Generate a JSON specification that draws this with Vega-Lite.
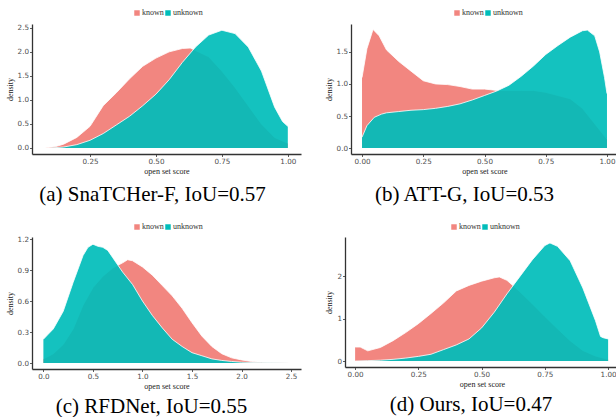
{
  "$schema": "https://vega.github.io/schema/vega-lite/v6.json",
  "background": "white",
  "padding": {"left": 6, "top": 9, "right": 0, "bottom": 0},
  "config": {
    "view": {"stroke": null},
    "axis": {"grid": false, "domainColor": "#333333", "domainWidth": 1.3, "tickColor": "#333333", "tickSize": 2.5, "tickWidth": 0.8, "labelFont": "DejaVu Sans", "labelFontSize": 7.2, "labelColor": "#4d4d4d", "labelPadding": 1, "titleFont": "Liberation Serif", "titleFontSize": 8, "titleFontWeight": "normal", "titleColor": "#1a1a1a", "titlePadding": 3},
    "legend": {"symbolType": "square", "symbolSize": 30, "symbolStrokeWidth": 0, "labelFont": "Liberation Serif", "labelFontSize": 8, "labelColor": "#333333", "labelOffset": 1, "columnPadding": -3, "padding": 0, "rowPadding": 0},
    "title": {"font": "Liberation Serif", "fontSize": 21, "fontWeight": "normal", "color": "black", "orient": "bottom", "anchor": "middle", "frame": "group", "offset": 8}
  },
  "datasets": {
    "a": [
      {"s":"known","v":0.08,"d":0},{"s":"known","v":0.12,"d":0.03},{"s":"known","v":0.15,"d":0.08},{"s":"known","v":0.2,"d":0.22},{"s":"known","v":0.25,"d":0.45},{"s":"known","v":0.3,"d":0.88},{"s":"known","v":0.35,"d":1.15},{"s":"known","v":0.4,"d":1.44},{"s":"known","v":0.45,"d":1.7},{"s":"known","v":0.5,"d":1.87},{"s":"known","v":0.55,"d":2.0},{"s":"known","v":0.6,"d":2.07},{"s":"known","v":0.63,"d":2.08},{"s":"known","v":0.65,"d":2.03},{"s":"known","v":0.7,"d":1.9},{"s":"known","v":0.75,"d":1.6},{"s":"known","v":0.8,"d":1.26},{"s":"known","v":0.85,"d":0.88},{"s":"known","v":0.9,"d":0.5},{"s":"known","v":0.95,"d":0.22},{"s":"known","v":1.0,"d":0.1},
      {"s":"unknown","v":0.1,"d":0},{"s":"unknown","v":0.15,"d":0.02},{"s":"unknown","v":0.2,"d":0.07},{"s":"unknown","v":0.25,"d":0.16},{"s":"unknown","v":0.3,"d":0.3},{"s":"unknown","v":0.35,"d":0.48},{"s":"unknown","v":0.4,"d":0.66},{"s":"unknown","v":0.45,"d":0.88},{"s":"unknown","v":0.5,"d":1.12},{"s":"unknown","v":0.55,"d":1.42},{"s":"unknown","v":0.6,"d":1.78},{"s":"unknown","v":0.65,"d":2.1},{"s":"unknown","v":0.7,"d":2.35},{"s":"unknown","v":0.75,"d":2.45},{"s":"unknown","v":0.8,"d":2.38},{"s":"unknown","v":0.85,"d":2.1},{"s":"unknown","v":0.9,"d":1.6},{"s":"unknown","v":0.95,"d":0.85},{"s":"unknown","v":0.98,"d":0.55},{"s":"unknown","v":1.0,"d":0.45}
    ],
    "b": [
      {"s":"known","v":0,"d":1.1},{"s":"known","v":0.02,"d":1.55},{"s":"known","v":0.045,"d":1.85},{"s":"known","v":0.07,"d":1.75},{"s":"known","v":0.1,"d":1.53},{"s":"known","v":0.15,"d":1.35},{"s":"known","v":0.2,"d":1.2},{"s":"known","v":0.25,"d":1.05},{"s":"known","v":0.3,"d":1.0},{"s":"known","v":0.35,"d":0.99},{"s":"known","v":0.4,"d":0.96},{"s":"known","v":0.45,"d":0.92},{"s":"known","v":0.5,"d":0.92},{"s":"known","v":0.55,"d":0.9},{"s":"known","v":0.6,"d":0.9},{"s":"known","v":0.65,"d":0.9},{"s":"known","v":0.7,"d":0.9},{"s":"known","v":0.75,"d":0.87},{"s":"known","v":0.8,"d":0.82},{"s":"known","v":0.85,"d":0.77},{"s":"known","v":0.9,"d":0.62},{"s":"known","v":0.95,"d":0.38},{"s":"known","v":1.0,"d":0.14},
      {"s":"unknown","v":0,"d":0.17},{"s":"unknown","v":0.02,"d":0.35},{"s":"unknown","v":0.05,"d":0.48},{"s":"unknown","v":0.08,"d":0.53},{"s":"unknown","v":0.1,"d":0.55},{"s":"unknown","v":0.15,"d":0.57},{"s":"unknown","v":0.2,"d":0.59},{"s":"unknown","v":0.25,"d":0.6},{"s":"unknown","v":0.3,"d":0.62},{"s":"unknown","v":0.35,"d":0.65},{"s":"unknown","v":0.4,"d":0.69},{"s":"unknown","v":0.45,"d":0.75},{"s":"unknown","v":0.5,"d":0.82},{"s":"unknown","v":0.55,"d":0.89},{"s":"unknown","v":0.6,"d":0.98},{"s":"unknown","v":0.65,"d":1.12},{"s":"unknown","v":0.7,"d":1.28},{"s":"unknown","v":0.75,"d":1.46},{"s":"unknown","v":0.8,"d":1.6},{"s":"unknown","v":0.85,"d":1.73},{"s":"unknown","v":0.9,"d":1.83},{"s":"unknown","v":0.92,"d":1.84},{"s":"unknown","v":0.95,"d":1.75},{"s":"unknown","v":0.97,"d":1.5},{"s":"unknown","v":0.99,"d":1.1},{"s":"unknown","v":1.0,"d":0.85}
    ],
    "c": [
      {"s":"known","v":0,"d":0.04},{"s":"known","v":0.1,"d":0.09},{"s":"known","v":0.2,"d":0.18},{"s":"known","v":0.3,"d":0.33},{"s":"known","v":0.4,"d":0.56},{"s":"known","v":0.5,"d":0.73},{"s":"known","v":0.6,"d":0.84},{"s":"known","v":0.7,"d":0.92},{"s":"known","v":0.8,"d":0.97},{"s":"known","v":0.85,"d":1.0},{"s":"known","v":0.9,"d":0.99},{"s":"known","v":1.0,"d":0.93},{"s":"known","v":1.1,"d":0.85},{"s":"known","v":1.2,"d":0.75},{"s":"known","v":1.3,"d":0.65},{"s":"known","v":1.4,"d":0.53},{"s":"known","v":1.5,"d":0.39},{"s":"known","v":1.6,"d":0.26},{"s":"known","v":1.7,"d":0.16},{"s":"known","v":1.8,"d":0.09},{"s":"known","v":1.9,"d":0.05},{"s":"known","v":2.0,"d":0.03},{"s":"known","v":2.1,"d":0.015},{"s":"known","v":2.2,"d":0.008},{"s":"known","v":2.3,"d":0.004},{"s":"known","v":2.4,"d":0.002},{"s":"known","v":2.5,"d":0.001},
      {"s":"unknown","v":0,"d":0.23},{"s":"unknown","v":0.05,"d":0.28},{"s":"unknown","v":0.1,"d":0.33},{"s":"unknown","v":0.2,"d":0.5},{"s":"unknown","v":0.3,"d":0.78},{"s":"unknown","v":0.4,"d":1.04},{"s":"unknown","v":0.45,"d":1.12},{"s":"unknown","v":0.5,"d":1.15},{"s":"unknown","v":0.55,"d":1.13},{"s":"unknown","v":0.6,"d":1.12},{"s":"unknown","v":0.65,"d":1.09},{"s":"unknown","v":0.7,"d":1.02},{"s":"unknown","v":0.8,"d":0.88},{"s":"unknown","v":0.9,"d":0.76},{"s":"unknown","v":1.0,"d":0.6},{"s":"unknown","v":1.1,"d":0.46},{"s":"unknown","v":1.2,"d":0.34},{"s":"unknown","v":1.3,"d":0.23},{"s":"unknown","v":1.4,"d":0.16},{"s":"unknown","v":1.5,"d":0.1},{"s":"unknown","v":1.6,"d":0.07},{"s":"unknown","v":1.7,"d":0.04},{"s":"unknown","v":1.8,"d":0.025},{"s":"unknown","v":1.9,"d":0.015},{"s":"unknown","v":2.0,"d":0.008},{"s":"unknown","v":2.2,"d":0.003},{"s":"unknown","v":2.5,"d":0.001}
    ],
    "d": [
      {"s":"known","v":0,"d":0.33},{"s":"known","v":0.02,"d":0.33},{"s":"known","v":0.05,"d":0.24},{"s":"known","v":0.1,"d":0.32},{"s":"known","v":0.15,"d":0.48},{"s":"known","v":0.2,"d":0.67},{"s":"known","v":0.25,"d":0.88},{"s":"known","v":0.3,"d":1.12},{"s":"known","v":0.35,"d":1.37},{"s":"known","v":0.4,"d":1.65},{"s":"known","v":0.45,"d":1.78},{"s":"known","v":0.5,"d":1.88},{"s":"known","v":0.55,"d":1.96},{"s":"known","v":0.57,"d":1.98},{"s":"known","v":0.6,"d":1.9},{"s":"known","v":0.65,"d":1.64},{"s":"known","v":0.7,"d":1.35},{"s":"known","v":0.75,"d":1.05},{"s":"known","v":0.8,"d":0.76},{"s":"known","v":0.85,"d":0.48},{"s":"known","v":0.9,"d":0.25},{"s":"known","v":0.95,"d":0.12},{"s":"known","v":1.0,"d":0.04},
      {"s":"unknown","v":0,"d":0},{"s":"unknown","v":0.05,"d":0.01},{"s":"unknown","v":0.1,"d":0.02},{"s":"unknown","v":0.15,"d":0.04},{"s":"unknown","v":0.2,"d":0.07},{"s":"unknown","v":0.25,"d":0.11},{"s":"unknown","v":0.3,"d":0.16},{"s":"unknown","v":0.35,"d":0.27},{"s":"unknown","v":0.4,"d":0.38},{"s":"unknown","v":0.45,"d":0.52},{"s":"unknown","v":0.5,"d":0.78},{"s":"unknown","v":0.55,"d":1.15},{"s":"unknown","v":0.6,"d":1.58},{"s":"unknown","v":0.65,"d":1.98},{"s":"unknown","v":0.7,"d":2.38},{"s":"unknown","v":0.75,"d":2.72},{"s":"unknown","v":0.77,"d":2.78},{"s":"unknown","v":0.8,"d":2.7},{"s":"unknown","v":0.85,"d":2.36},{"s":"unknown","v":0.9,"d":1.72},{"s":"unknown","v":0.95,"d":0.95},{"s":"unknown","v":0.97,"d":0.58},{"s":"unknown","v":0.98,"d":0.55},{"s":"unknown","v":1.0,"d":0.52}
    ]
  },
  "spacing": 18,
  "resolve": {"scale": {"x": "independent", "y": "independent", "color": "independent"}, "legend": {"color": "independent"}},
  "vconcat": [
    {
      "spacing": 24,
      "resolve": {"scale": {"x": "independent", "y": "independent", "color": "independent"}, "legend": {"color": "independent"}},
      "hconcat": [
        {
          "width": 269, "height": 130,
          "data": {"name": "a"},
          "title": {"text": "(a) SnaTCHer-F, IoU=0.57", "dx": -14},
          "encoding": {
            "x": {"field": "v", "type": "quantitative", "scale": {"domain": [0.03, 1.05], "nice": false, "zero": false}, "axis": {"values": [0.25, 0.5, 0.75, 1], "format": ".2f", "title": "open set score"}},
            "y": {"field": "d", "type": "quantitative", "scale": {"domain": [-0.125, 2.58], "nice": false, "zero": false}, "axis": {"values": [0, 0.5, 1, 1.5, 2, 2.5], "format": ".1f", "title": "density"}}
          },
          "layer": [
            {"transform": [{"filter": "datum.s === 'known'"}], "mark": {"type": "area"}, "encoding": {"y2": {"datum": 0}, "color": {"field": "s", "type": "nominal", "scale": {"domain": ["known", "unknown"], "range": ["#F28680", "#00BDBA"]}, "legend": {"orient": "none", "legendX": 101, "legendY": -15, "direction": "horizontal", "title": null}}}},
            {"transform": [{"filter": "datum.s === 'known'"}], "mark": {"type": "line", "color": "white", "strokeWidth": 0.8}},
            {"transform": [{"filter": "datum.s === 'unknown'"}], "mark": {"type": "area", "fillOpacity": 0.92}, "encoding": {"y2": {"datum": 0}, "color": {"field": "s", "type": "nominal", "scale": {"domain": ["known", "unknown"], "range": ["#F28680", "#00BDBA"]}, "legend": {"orient": "none", "legendX": 101, "legendY": -15, "direction": "horizontal", "title": null}}}},
            {"transform": [{"filter": "datum.s === 'unknown'"}], "mark": {"type": "line", "color": "white", "strokeWidth": 0.8}}
          ]
        },
        {
          "width": 267, "height": 130,
          "data": {"name": "b"},
          "title": {"text": "(b) ATT-G, IoU=0.53", "dx": -20},
          "encoding": {
            "x": {"field": "v", "type": "quantitative", "scale": {"domain": [-0.045, 1.045], "nice": false, "zero": false}, "axis": {"values": [0, 0.25, 0.5, 0.75, 1], "format": ".2f", "title": "open set score"}},
            "y": {"field": "d", "type": "quantitative", "scale": {"domain": [-0.092, 1.935], "nice": false, "zero": false}, "axis": {"values": [0, 0.5, 1, 1.5], "format": ".1f", "title": "density"}}
          },
          "layer": [
            {"transform": [{"filter": "datum.s === 'known'"}], "mark": {"type": "area"}, "encoding": {"y2": {"datum": 0}, "color": {"field": "s", "type": "nominal", "scale": {"domain": ["known", "unknown"], "range": ["#F28680", "#00BDBA"]}, "legend": {"orient": "none", "legendX": 102, "legendY": -15, "direction": "horizontal", "title": null}}}},
            {"transform": [{"filter": "datum.s === 'known'"}], "mark": {"type": "line", "color": "white", "strokeWidth": 0.8}},
            {"transform": [{"filter": "datum.s === 'unknown'"}], "mark": {"type": "area", "fillOpacity": 0.92}, "encoding": {"y2": {"datum": 0}, "color": {"field": "s", "type": "nominal", "scale": {"domain": ["known", "unknown"], "range": ["#F28680", "#00BDBA"]}, "legend": {"orient": "none", "legendX": 102, "legendY": -15, "direction": "horizontal", "title": null}}}},
            {"transform": [{"filter": "datum.s === 'unknown'"}], "mark": {"type": "line", "color": "white", "strokeWidth": 0.8}}
          ]
        }
      ]
    },
    {
      "spacing": 24,
      "resolve": {"scale": {"x": "independent", "y": "independent", "color": "independent"}, "legend": {"color": "independent"}},
      "hconcat": [
        {
          "width": 269, "height": 132,
          "data": {"name": "c"},
          "title": {"text": "(c) RFDNet, IoU=0.55", "dx": -15, "offset": 5},
          "encoding": {
            "x": {"field": "v", "type": "quantitative", "scale": {"domain": [-0.115, 2.6], "nice": false, "zero": false}, "axis": {"values": [0, 0.5, 1, 1.5, 2, 2.5], "format": ".1f", "title": "open set score"}},
            "y": {"field": "d", "type": "quantitative", "scale": {"domain": [-0.058, 1.22], "nice": false, "zero": false}, "axis": {"values": [0, 0.3, 0.6, 0.9, 1.2], "format": ".1f", "title": "density"}}
          },
          "layer": [
            {"transform": [{"filter": "datum.s === 'known'"}], "mark": {"type": "area"}, "encoding": {"y2": {"datum": 0}, "color": {"field": "s", "type": "nominal", "scale": {"domain": ["known", "unknown"], "range": ["#F28680", "#00BDBA"]}, "legend": {"orient": "none", "legendX": 101, "legendY": -14, "direction": "horizontal", "title": null}}}},
            {"transform": [{"filter": "datum.s === 'known'"}], "mark": {"type": "line", "color": "white", "strokeWidth": 0.8}},
            {"transform": [{"filter": "datum.s === 'unknown'"}], "mark": {"type": "area", "fillOpacity": 0.92}, "encoding": {"y2": {"datum": 0}, "color": {"field": "s", "type": "nominal", "scale": {"domain": ["known", "unknown"], "range": ["#F28680", "#00BDBA"]}, "legend": {"orient": "none", "legendX": 101, "legendY": -14, "direction": "horizontal", "title": null}}}},
            {"transform": [{"filter": "datum.s === 'unknown'"}], "mark": {"type": "line", "color": "white", "strokeWidth": 0.8}}
          ]
        },
        {
          "width": 274, "height": 130,
          "data": {"name": "d"},
          "title": {"text": "(d) Ours, IoU=0.47", "dx": -11, "offset": 5},
          "encoding": {
            "x": {"field": "v", "type": "quantitative", "scale": {"domain": [-0.04, 1.043], "nice": false, "zero": false}, "axis": {"values": [0, 0.25, 0.5, 0.75, 1], "format": ".2f", "title": "open set score"}},
            "y": {"field": "d", "type": "quantitative", "scale": {"domain": [-0.14, 2.92], "nice": false, "zero": false}, "axis": {"values": [0, 1, 2], "format": "d", "title": "density"}}
          },
          "layer": [
            {"transform": [{"filter": "datum.s === 'known'"}], "mark": {"type": "area"}, "encoding": {"y2": {"datum": 0}, "color": {"field": "s", "type": "nominal", "scale": {"domain": ["known", "unknown"], "range": ["#F28680", "#00BDBA"]}, "legend": {"orient": "none", "legendX": 105, "legendY": -14, "direction": "horizontal", "title": null}}}},
            {"transform": [{"filter": "datum.s === 'known'"}], "mark": {"type": "line", "color": "white", "strokeWidth": 0.8}},
            {"transform": [{"filter": "datum.s === 'unknown'"}], "mark": {"type": "area", "fillOpacity": 0.92}, "encoding": {"y2": {"datum": 0}, "color": {"field": "s", "type": "nominal", "scale": {"domain": ["known", "unknown"], "range": ["#F28680", "#00BDBA"]}, "legend": {"orient": "none", "legendX": 105, "legendY": -14, "direction": "horizontal", "title": null}}}},
            {"transform": [{"filter": "datum.s === 'unknown'"}], "mark": {"type": "line", "color": "white", "strokeWidth": 0.8}}
          ]
        }
      ]
    }
  ]
}
